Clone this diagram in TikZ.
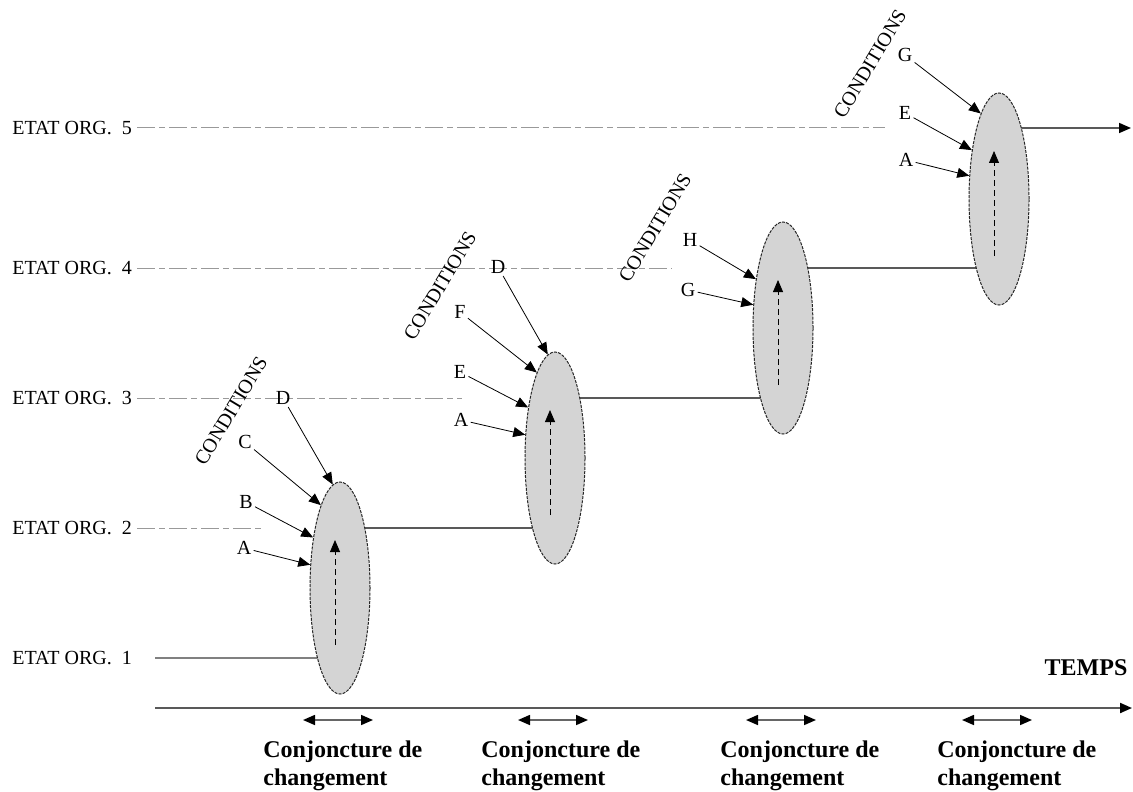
\documentclass[tikz,border=0pt]{standalone}
\usepackage{fontspec}
\setmainfont{Liberation Serif}
\usetikzlibrary{shapes.geometric,arrows.meta}
\tikzset{
  tip/.style={-{Triangle[length=6pt,width=5pt,color=black]}},
  twin/.style={{Triangle[length=6pt,width=5pt,color=black]}-{Triangle[length=6pt,width=5pt,color=black]},draw=black!60,line width=0.8pt},
  stateline/.style={draw=black!65,line width=0.8pt},
  dashline/.style={draw=black!40,line width=0.5pt,dash pattern=on 9pt off 2pt on 3pt off 2pt},
  conj/.style={ellipse,draw=black!85,dash pattern=on 1.5pt off 0.6pt,line width=0.5pt,fill=black!17,minimum width=30pt,minimum height=106pt,inner sep=0pt},
  boldtext/.style={font=\fontsize{12}{14}\selectfont\bfseries}
}
\begin{document}
\begin{tikzpicture}[x=0.5pt,y=-0.5pt]
\useasboundingbox (0,0) rectangle (1133,791);
\foreach \n/\y/\d in {1/658/155,2/528/265,3/398/462,4/268/672,5/128/885}
{
\node[anchor=west,inner sep=0pt] (etat\n) at (12, \y){ETAT ORG.\ \ \n};
\coordinate (d\n) at (\d, \y);
}
\foreach \e/\x/\y in {1/340/588,2/555/458,3/783/328,4/999/199}
{
\coordinate (c\e) at (\x, \y);
}
\draw[stateline,draw=black!50,line width=1.4pt] (d1) -- (c1 |- etat1);
\foreach \n/\p in {2/1,3/2,4/3,5/4}
{
\draw[dashline] ([xshift=2.5pt]etat\n.east) -- (d\n);
}
\foreach \n/\p in {2/1,3/2,4/3}
{
\draw[stateline] (c\p |- etat\n) -- (c\n |- etat\n);
}
\coordinate (fin) at (1131, 128);
\draw[stateline,tip] (c4 |- etat5) -- (fin);
\foreach \e in {1,...,4}
{
\node[conj] (e\e) at (c\e){};
\path (e\e) ++(-5,57) coordinate (lo\e) ++(0,-105) coordinate (hi\e);
\draw[tip,densely dashed] (lo\e) -- (hi\e);
}
\foreach \e/\x/\y/\conds in {1/231/411/{D/94/283/398,C/103/245/442,B/118/246/502,A/142/244/548},
                             2/440/286/{D/94/498/267,F/102/460/312,E/118/460/372,A/142/461/420},
                             3/655/228/{H/119/690/240,G/142/688/290},
                             4/870/64/{G/102/905/55,E/119/905/113,A/142/906/160}}
{
\node[rotate=59] (cond\e) at (\x, \y){CONDITIONS};
\foreach \lt/\ang/\lx/\ly in \conds
{
\node[inner sep=1pt] (k\e\lt) at (\lx, \ly){\lt};
\draw[tip] (k\e\lt) -- (e\e.\ang);
}
}
\coordinate (t0) at (155, 708);
\coordinate (t1) at (1132, 708);
\draw[stateline,line width=1pt,tip] (t0) -- (t1);
\node[boldtext] (temps) at (1086, 668){TEMPS};
\foreach \e/\tx in {1/263,2/481,3/720,4/937}
{
\path (e\e |- t0) ++(-37,12) coordinate (wl\e) ++(70,0) coordinate (wr\e);
\draw[twin] (wl\e) -- (wr\e);
\node[boldtext,anchor=west,align=left,inner sep=0pt] (cj\e) at (\tx, 766){Conjoncture de\\changement};
}
\end{tikzpicture}
\end{document}
